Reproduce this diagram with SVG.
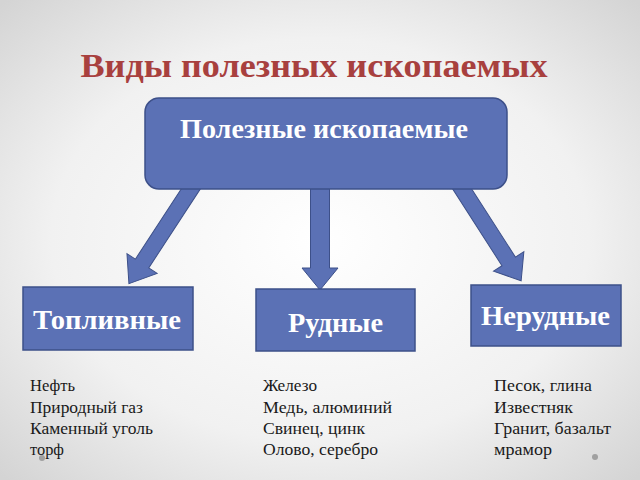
<svg xmlns="http://www.w3.org/2000/svg" width="640" height="480" viewBox="0 0 640 480">
<defs>
<radialGradient id="bg" cx="50%" cy="50%" r="70%">
<stop offset="0" stop-color="#ffffff"/>
<stop offset="0.6" stop-color="#f1f1f1"/>
<stop offset="1" stop-color="#d4d4d4"/>
</radialGradient>
<style>
.box{fill:#5b71b5;stroke:#3d5089;stroke-width:1.5}
.arr{fill:#5b71b5;stroke:#3d5089;stroke-width:1}
.lbl{font-family:"Liberation Serif","Times New Roman",serif;font-weight:bold;fill:#ffffff;text-anchor:middle;font-size:26.5px}
.lst{font-family:"Liberation Serif","Times New Roman",serif;font-size:16.5px;fill:#1a1a1a}
.title{font-family:"Liberation Serif","Times New Roman",serif;font-weight:bold;font-size:33px;fill:#a8403e;text-anchor:middle}
</style>
</defs>
<rect width="640" height="480" fill="url(#bg)"/>
<text class="title" x="314" y="77" textLength="467" lengthAdjust="spacingAndGlyphs">Виды полезных ископаемых</text>
<g id="connectors">
<polygon class="arr" transform="translate(194,184) rotate(123.15)" points="0,-8 95,-8 95,-18 119,0 95,18 95,8 0,8"/>
<polygon class="arr" transform="translate(320,184) rotate(90)" points="0,-9.5 84,-9.5 84,-18 106,0 84,18 84,9.5 0,9.5"/>
<polygon class="arr" transform="translate(459,184) rotate(57.3)" points="0,-8 92,-8 92,-18 115,0 92,18 92,8 0,8"/>
</g>
<g id="root">
<rect class="box" x="145" y="98" width="362" height="91" rx="14"/>
<text class="lbl" x="324" y="138" textLength="288" lengthAdjust="spacingAndGlyphs">Полезные ископаемые</text>
</g>
<g id="toplivnye">
<rect class="box" x="23" y="287" width="170" height="63"/>
<text class="lbl" x="107" y="329" textLength="148" lengthAdjust="spacingAndGlyphs">Топливные</text>
</g>
<g id="rudnye">
<rect class="box" x="256" y="289" width="159" height="62"/>
<text class="lbl" x="335.5" y="332" textLength="95" lengthAdjust="spacingAndGlyphs">Рудные</text>
</g>
<g id="nerudnye">
<rect class="box" x="471" y="285" width="150" height="61"/>
<text class="lbl" x="545.5" y="325" textLength="129" lengthAdjust="spacingAndGlyphs">Нерудные</text>
</g>
<g id="list-toplivnye">
<text class="lst" x="30" y="391" textLength="45" lengthAdjust="spacingAndGlyphs">Нефть</text>
<text class="lst" x="30" y="413" textLength="113" lengthAdjust="spacingAndGlyphs">Природный газ</text>
<text class="lst" x="30" y="434" textLength="123" lengthAdjust="spacingAndGlyphs">Каменный уголь</text>
<text class="lst" x="30" y="455" textLength="34" lengthAdjust="spacingAndGlyphs">торф</text>
</g>
<g id="list-rudnye">
<text class="lst" x="263" y="391" textLength="54" lengthAdjust="spacingAndGlyphs">Железо</text>
<text class="lst" x="263" y="413" textLength="129" lengthAdjust="spacingAndGlyphs">Медь, алюминий</text>
<text class="lst" x="263" y="434" textLength="102" lengthAdjust="spacingAndGlyphs">Свинец, цинк</text>
<text class="lst" x="263" y="455" textLength="115" lengthAdjust="spacingAndGlyphs">Олово, серебро</text>
</g>
<g id="list-nerudnye">
<text class="lst" x="494" y="391" textLength="98" lengthAdjust="spacingAndGlyphs">Песок, глина</text>
<text class="lst" x="494" y="413" textLength="79" lengthAdjust="spacingAndGlyphs">Известняк</text>
<text class="lst" x="494" y="434" textLength="117" lengthAdjust="spacingAndGlyphs">Гранит, базальт</text>
<text class="lst" x="494" y="455" textLength="58" lengthAdjust="spacingAndGlyphs">мрамор</text>
</g>
<circle cx="42" cy="458" r="3" fill="#a0a0a0"/>
<circle cx="595" cy="457" r="3" fill="#a0a0a0"/>
</svg>
